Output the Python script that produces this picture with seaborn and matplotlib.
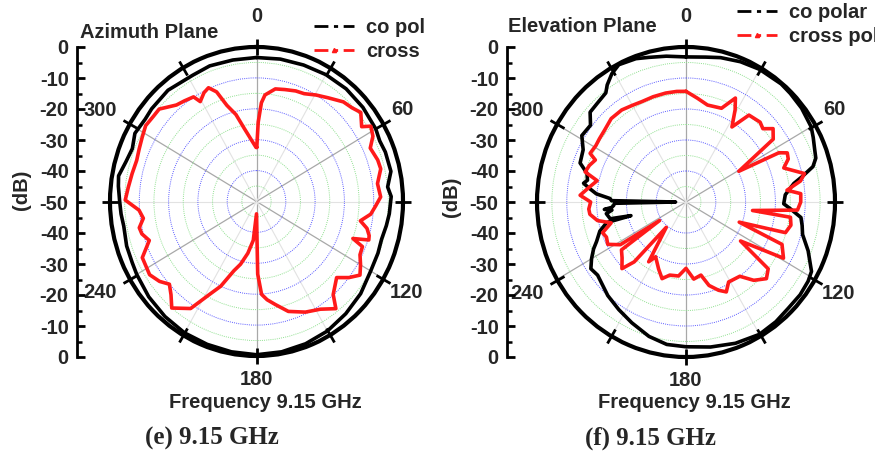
import numpy as np
import pandas as pd
import matplotlib
matplotlib.use("Agg")
import matplotlib.pyplot as plt
import seaborn as sns
from matplotlib.lines import Line2D
from matplotlib.ticker import FixedLocator, FixedFormatter

# ---------------- data (angle in degrees clockwise from top, level in dB) -------------
az_co_ang = [0, 10, 20, 30, 40, 50, 60, 65, 70, 78, 84, 88, 95, 100, 106, 112, 120, 130, 140,
             150, 160, 170, 180, 190, 200, 210, 220, 230, 240, 245, 252, 260, 265, 270, 276,
             280, 286, 292, 298, 305, 310, 320, 332, 340, 350]
az_co_db = [-3.4, -3.2, -3.0, -2.6, -2.4, -2.6, -3.0, -3.6, -3.2, -3.1, -5.0, -4.0, -4.5, -5.0,
            -5.6, -5.3, -5.0, -3.6, -2.6, -1.6, -1.0, -0.6, -0.4, -0.6, -0.8, -0.9, -1.4, -2.0,
            -2.8, -3.2, -3.4, -4.0, -3.6, -3.3, -2.6, -2.2, -3.6, -4.3, -3.0, -3.6, -3.3, -3.0,
            -3.7, -3.3, -3.5]

az_x_ang = [0.3, 1.3, 3, 4.8, 10, 15, 20.5, 25, 30.5, 36, 42.6, 47, 51, 56, 58, 62, 66, 72, 76,
            82, 88, 92, 96, 100, 103, 106, 108, 110, 112, 116, 120, 124, 128, 132, 139, 142, 148,
            155, 163, 169, 173.5, 176.7, 179, 180, 185, 190, 195, 199, 204, 208, 213, 220, 224,
            228, 232, 237, 245, 251, 255, 258, 262, 266, 270.6, 276, 282, 288, 293, 298, 303,
            308, 312, 318.8, 323, 327.6, 329.3, 333, 336, 339, 342, 346, 350, 355, 359.5]
az_x_db = [-32.5, -24.3, -18, -15.4, -13, -12.5, -11.8, -11.5, -10.0, -8.5, -6.2, -5.5, -4.2,
           -6.7, -4.0, -5.0, -7.5, -6.5, -6.3, -8.3, -7.6, -9.3, -10.8, -14, -11.3, -10.0, -9.7,
           -15, -11, -10.7, -9.0, -7.4, -10, -13.2, -10.1, -6.0, -8.9, -10.5, -12.8, -16, -18,
           -19.9, -26.5, -46, -37.4, -33, -29, -26.3, -20, -16, -8.7, -5, -8, -10, -8, -6.5, -7,
           -11.3, -9.5, -9.1, -11, -9.8, -5.2, -6, -6.6, -7, -6.5, -5.8, -4.9, -5.3, -5.3, -8.5,
           -9.2, -9.9, -12.4, -10.5, -9.7, -12, -17.3, -21, -26, -30, -32.5]

el_co_ang = [0, 8, 14, 22, 30, 40, 45, 52, 60, 64, 68.5, 72, 75, 78, 80.6, 84, 86, 91, 93.6, 97.4,
             101, 105, 111, 118, 122, 128, 135, 142, 150, 160, 170, 180, 188, 196, 205, 213, 221,
             231.5, 236, 240, 244, 247, 252, 256, 256.6, 258, 262, 264, 265, 266, 267.4, 269,
             270, 271, 272.5, 275, 278, 280, 282, 285.6, 289.5, 296, 301.5, 307.7, 312, 317,
             322.6, 325, 329, 333, 340, 345, 352]
el_co_db = [-3.2, -2.8, -2.0, -1.2, -0.6, -0.3, -0.5, -0.8, -1.5, -2.5, -3.6, -4.2, -5.9, -10,
            -13.3, -15.5, -16.6, -17.2, -14.9, -11.1, -10.3, -9.5, -6.1, -2.3, -1.7, -1.4, -1.5,
            -1.0, -0.7, -1.5, -2.5, -3.3, -3.6, -4.9, -7.0, -8.6, -10.0, -12.1, -11.5, -13.4,
            -15.5, -17.4, -19.6, -22.6, -31, -24, -23, -25, -22.5, -25, -25.7, -26, -46.5, -25,
            -24.5, -19.8, -17, -15.1, -16.2, -15.5, -12.3, -11.6, -9.0, -9.5, -6.7, -6.4, -5.7,
            -3.9, -1.7, -0.3, -0.8, -1.7, -2.5]

el_x_ang = [0, 6.5, 13, 21.5, 26.3, 29, 32.5, 37, 44, 47.5, 51, 55.3, 60.8, 63, 65, 68, 71.5, 77,
            80, 83.6, 86, 90, 94, 97, 98, 102, 106.5, 110, 113, 119, 124.5, 128, 132.5, 138, 143,
            151, 155, 159, 164, 168, 174, 180, 186, 193, 198, 203, 210, 213, 219, 222, 225, 230,
            234.5, 236, 238, 242.5, 247, 250.5, 255, 258.6, 263, 266, 270, 273.5, 278, 283, 286,
            290, 294, 296, 301, 305, 310, 317, 324, 330, 335.6, 342, 349, 355]
el_x_db = [-14.3, -16.3, -17.9, -17.5, -12.6, -16, -21.3, -14.9, -14.2, -15.0, -12.4, -14.4,
           -29.7, -15, -12.5, -13, -15.4, -9.2, -11, -15.9, -11.4, -11.5, -12.5, -27.5, -14.6, -14,
           -15.2, -31, -15, -12.6, -27.8, -15, -13.4, -16, -20, -20.5, -18, -19.5, -22, -25.9, -25,
           -28.6, -26, -25.8, -24, -26.5, -29.6, -27, -39.5, -24, -19.6, -22, -23.4, -39.3, -24,
           -20.4, -21, -20.3, -24, -19.7, -17.5, -17.3, -18, -14.4, -17, -19.4, -14.8, -15.5,
           -16.7, -14.2, -14.7, -14.5, -14.2, -13.2, -13.3, -14, -14.4, -14.3, -14.2, -14.2]

angle_labels = ["0", "60", "120", "180", "240", "300"]
angle_label_pos = [(0, 60), (59, 58), (120, 59), (180, 57.6), (241, 61), (299, 61)]
scale_ticks = [50, 40, 30, 20, 10, 0, -10, -20, -30, -40, -50]
scale_labels = ["0", "-10", "-20", "-30", "-40", "-50", "-40", "-30", "-20", "-10", "0"]

# ---------------- styling -------------
sns.set_style("white")
plt.rcParams["font.family"] = ["Liberation Sans", "DejaVu Sans"]
plt.rcParams["font.weight"] = "bold"
FS = 14.5

W, H = 875, 455
fig = plt.figure(figsize=(W / 100, H / 100), dpi=100)


def fbox(l, t, r, b):
    return [l / W, 1 - b / H, (r - l) / W, (b - t) / H]


def closed(ang, db):
    a = np.deg2rad(np.append(ang, ang[0]))
    r = np.append(db, db[0]) + 50.0
    return pd.DataFrame({"theta": a, "r": r})


def make_polar(box, co_ang, co_db, x_ang, x_db):
    ax = fig.add_axes(box, projection="polar")
    ax.set_aspect("auto")
    ax.set_theta_zero_location("N")
    ax.set_theta_direction(-1)
    ax.set_facecolor("white")
    # radial rings
    ax.yaxis.set_major_locator(FixedLocator([10, 20, 30, 40]))
    ax.yaxis.set_minor_locator(FixedLocator([5, 15, 25, 35, 45]))
    ax.set_yticklabels([])
    ax.grid(True, which="major", axis="y", color="#5a5aff", lw=0.7, ls=(0, (1, 1.2)))
    ax.grid(True, which="minor", axis="y", color="#8fe08f", lw=0.7, ls=(0, (1, 1.2)))
    # spokes
    ax.xaxis.set_major_locator(FixedLocator(np.deg2rad([0, 60, 120, 180, 240, 300])))
    ax.xaxis.set_minor_locator(FixedLocator(np.deg2rad([30, 90, 150, 210, 270, 330])))
    ax.set_xticklabels([])
    ax.grid(True, which="major", axis="x", color="#a8a8a8", lw=0.9)
    ax.grid(True, which="minor", axis="x", color="#e2e2e2", lw=0.8)
    ax.tick_params(axis="x", which="both", bottom=False, top=True, direction="inout",
                   length=6, width=2, color="black")
    ax.tick_params(axis="y", which="both", length=0)
    ax.spines["polar"].set_linewidth(3)
    ax.spines["polar"].set_color("black")

    dco = closed(co_ang, co_db)
    dx = closed(x_ang, x_db)
    sns.lineplot(data=dco, x="theta", y="r", sort=False, estimator=None, ax=ax,
                 color="black", lw=2.6, zorder=4)
    sns.lineplot(data=dx, x="theta", y="r", sort=False, estimator=None, ax=ax,
                 color="#ff1a1a", lw=2.6, zorder=5)
    ax.set_rlim(0, 50)
    ax.set_xlabel("")
    ax.set_ylabel("")
    for lab, (t, r) in zip(angle_labels, angle_label_pos):
        ax.text(np.deg2rad(t), r, lab, ha="center", va="center", fontsize=FS,
                fontweight="bold", clip_on=False)
    return ax


def make_scale(x_px, t, b):
    sa = fig.add_axes([x_px / W, 1 - b / H, 0.0005, (b - t) / H])
    sa.set_ylim(-50, 50)
    sa.set_xticks([])
    for s in ["top", "right", "bottom"]:
        sa.spines[s].set_visible(False)
    sa.spines["left"].set_linewidth(2)
    sa.spines["left"].set_color("black")
    sa.yaxis.set_major_locator(FixedLocator(scale_ticks))
    sa.yaxis.set_major_formatter(FixedFormatter(scale_labels))
    sa.yaxis.set_minor_locator(FixedLocator(np.arange(-45, 50, 10)))
    sa.tick_params(axis="y", which="both", left=True, right=False)
    sa.tick_params(axis="y", which="major", direction="in", length=6, width=2,
                   labelsize=FS, pad=6, color="black")
    sa.tick_params(axis="y", which="minor", direction="in", length=3.5, width=1.8, color="black")
    sa.patch.set_alpha(0)
    return sa


# left: Azimuth
axL = make_polar(fbox(110, 47, 403, 356), az_co_ang, az_co_db, az_x_ang, az_x_db)
make_scale(77, 47, 357)
# right: Elevation
axR = make_polar(fbox(537, 47, 835, 357), el_co_ang, el_co_db, el_x_ang, el_x_db)
make_scale(507, 47, 357)

# titles & labels
fig.text(80 / W, 1 - 32 / H, "Azimuth Plane", ha="left", va="center", fontsize=FS, fontweight="bold")
fig.text(508 / W, 1 - 27 / H, "Elevation Plane", ha="left", va="center", fontsize=FS, fontweight="bold")
fig.text(22 / W, 1 - 190 / H, "(dB)", rotation=90, ha="center", va="center", fontsize=FS, fontweight="bold")
fig.text(452 / W, 1 - 197 / H, "(dB)", rotation=90, ha="center", va="center", fontsize=FS, fontweight="bold")
fig.text(265 / W, 1 - 402 / H, "Frequency 9.15 GHz", ha="center", va="center", fontsize=FS, fontweight="bold")
fig.text(694 / W, 1 - 402 / H, "Frequency 9.15 GHz", ha="center", va="center", fontsize=FS, fontweight="bold")
fig.text(212 / W, 1 - 438 / H, "(e) 9.15 GHz", ha="center", va="center", fontsize=18,
         fontweight="bold", family="Liberation Serif")
fig.text(650 / W, 1 - 438 / H, "(f) 9.15 GHz", ha="center", va="center", fontsize=18,
         fontweight="bold", family="Liberation Serif")

# legends
def handles():
    return [Line2D([], [], color="black", lw=2, ls=(0, (5, 2, 1.5, 2))),
            Line2D([], [], color="#ff1a1a", lw=2, ls=(0, (5, 2, 1.5, 2)), marker="^", markersize=3,
                   markevery=[1])]

fig.legend(handles(), ["co pol", "cross"], loc="upper left", bbox_to_anchor=(314 / W, 1 - 18 / H),
           frameon=False, fontsize=FS, handlelength=2.0, handletextpad=0.6, labelspacing=0.25,
           borderaxespad=0, borderpad=0)
fig.legend(handles(), ["co polar", "cross polar"], loc="upper left",
           bbox_to_anchor=(737 / W, 1 - 3 / H), frameon=False, fontsize=FS, handlelength=2.0,
           handletextpad=0.6, labelspacing=0.25, borderaxespad=0, borderpad=0)

fig.savefig("out.png", dpi=100)
